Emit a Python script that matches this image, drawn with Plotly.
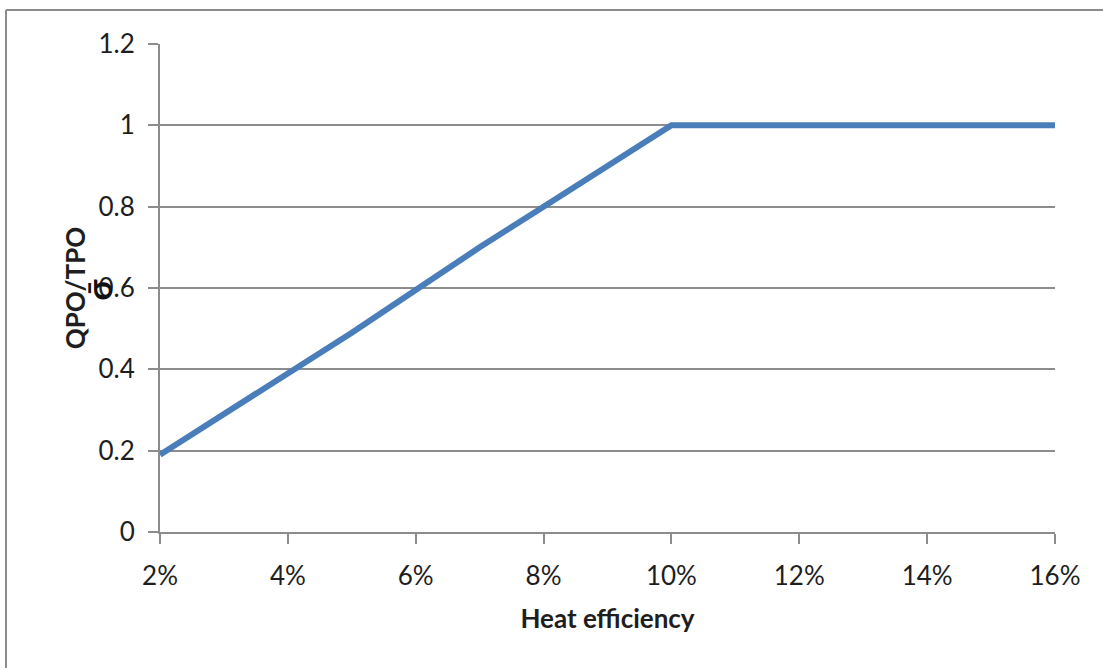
import plotly.graph_objects as go

x_vals = [0.02, 0.03, 0.04, 0.05, 0.06, 0.07, 0.08, 0.09, 0.10, 0.11, 0.12, 0.13, 0.14, 0.15, 0.16]
y_vals = [0.19, 0.29, 0.39, 0.49, 0.595, 0.70, 0.80, 0.90, 1.0, 1.0, 1.0, 1.0, 1.0, 1.0, 1.0]
x_ticks = [0.02, 0.04, 0.06, 0.08, 0.10, 0.12, 0.14, 0.16]
x_tick_labels = ["2%", "4%", "6%", "8%", "10%", "12%", "14%", "16%"]
y_ticks = [0, 0.2, 0.4, 0.6, 0.8, 1, 1.2]
y_tick_labels = ["0", "0.2", "0.4", "0.6", "0.8", "1", "1.2"]

W, H = 1103, 668
L, R, T, B = 160, 48, 44, 136
pw, ph = W - L - R, H - T - B

def px(x):
    return (x - L) / pw

def py(y):
    return (H - B - y) / ph

font = "Lato, 'Open Sans', sans-serif"
grid = "#8c8c8c"
txt = "#1e1e1e"

fig = go.Figure()
fig.add_trace(go.Scatter(x=x_vals, y=y_vals, mode="lines",
                         line=dict(color="#4a7ebb", width=6), showlegend=False,
                         hoverinfo="skip"))

fig.update_layout(
    width=W, height=H,
    margin=dict(l=L, r=R, t=T, b=B),
    paper_bgcolor="white", plot_bgcolor="white",
    font=dict(family=font, size=26, color=txt),
    xaxis=dict(range=[0.02, 0.16], tickvals=x_ticks, ticktext=x_tick_labels,
               showgrid=False, zeroline=False, showline=True, linecolor=grid, linewidth=2,
               ticks="outside", ticklen=10, tickwidth=2, tickcolor=grid,
               ticklabelstandoff=10,
               tickfont=dict(size=26, family=font, color=txt),
               title=dict(text="<b>Heat efficiency</b>", font=dict(size=26, family=font, color=txt),
                          standoff=20)),
    yaxis=dict(range=[0, 1.2], tickvals=y_ticks, ticktext=y_tick_labels,
               showgrid=True, gridcolor=grid, gridwidth=2, zeroline=False,
               showline=True, linecolor=grid, linewidth=2,
               ticks="outside", ticklen=10, tickwidth=2, tickcolor=grid,
               ticklabelstandoff=8,
               tickfont=dict(size=26, family=font, color=txt),
               title=dict(text="<b>QPO/TPO</b>", font=dict(size=26, family=font, color=txt),
                          standoff=5)),
)

# outer border (top and left) of the cropped chart area
fig.add_shape(type="line", xref="paper", yref="paper",
              x0=px(6), x1=px(6), y0=py(668), y1=py(10),
              line=dict(color="#8c8c8c", width=2))
fig.add_shape(type="line", xref="paper", yref="paper",
              x0=px(6), x1=px(1103), y0=py(10), y1=py(10),
              line=dict(color="#8c8c8c", width=2))

# stray rotated glyph overlapping the 0.6 tick label
fig.add_annotation(xref="paper", yref="paper", x=px(75), y=py(290),
                   text="<b>σ̄</b>", showarrow=False, textangle=-90,
                   font=dict(size=34, family=font, color="#111111"))

fig.write_html("out.html", config={"displayModeBar": False},
               post_script="document.body.style.margin='0';document.body.style.overflow='hidden';")
